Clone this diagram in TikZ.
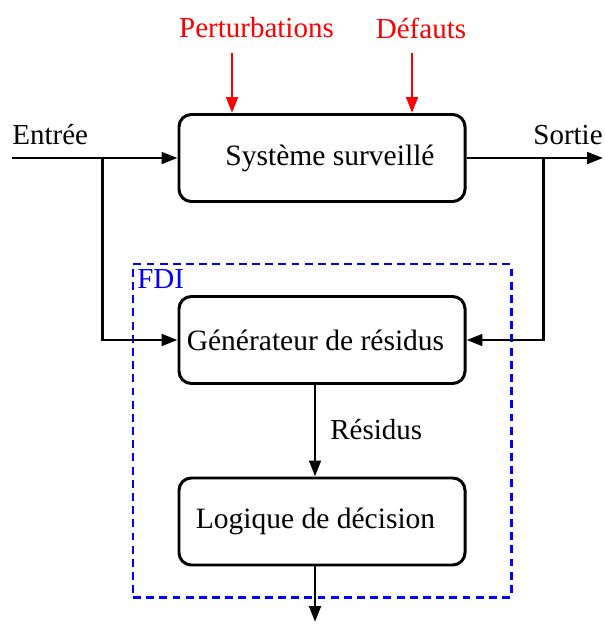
\documentclass[tikz,border=0pt]{standalone}
\usepackage{fontspec}
\setmainfont{Liberation Serif}
\usetikzlibrary{arrows.meta,positioning}

\begin{document}
\begin{tikzpicture}[
  bloc/.style={draw, line width=1.7pt, rounded corners=7pt, minimum width=5.72cm,
               minimum height=1.74cm, font=\fontsize{16.8}{19}\selectfont, align=center},
  lbl/.style={font=\fontsize{16.5}{19}\selectfont, inner sep=0pt},
  fleche/.style={line width=1.7pt, -{Triangle[length=9pt,width=6.5pt]}},
  cadre/.style={draw=blue, line width=1.7pt, dash pattern=on 4.5pt off 3pt,
                minimum width=7.56cm, minimum height=6.66cm, inner sep=0pt},
]
\useasboundingbox (0,0) rectangle (12.1,-12.5);

% blocs
\node[bloc] (sys) at (6.44,-3.16) {\hspace*{0.32cm}Système surveillé};
\node[cadre] (fdi) at (6.44,-8.61) {};
\node[bloc] (gen) at (6.44,-6.8) {\hspace*{-0.26cm}Générateur de résidus};
\node[bloc] (dec) at (6.44,-10.43) {\hspace*{-0.26cm}Logique de décision};

% textes
\node[lbl, red] (pert) at (5.13,-0.56) {Perturbations};
\node[lbl, red] (def) at (8.42,-0.56) {Défauts};
\node[lbl, anchor=west] (entree) at (0.24,-2.7) {Entrée};
\node[lbl, anchor=east] (sortie) at (12.06,-2.7) {Sortie};
\node[lbl, anchor=west] (res) at (6.6,-8.6) {Résidus};
\node[lbl, blue, anchor=west] (fdilbl) at (2.74,-5.58) {FDI};

% points de passage
\coordinate (p) at (4.64,-1.06);
\coordinate (d) at (8.24,-1.06);
\coordinate (e) at (0.24,0);
\coordinate (s) at (12.06,0);
\coordinate (b1) at (2.05,0);
\coordinate (b2) at (10.86,0);
\coordinate (axe) at (6.3,0);
\coordinate (fin) at (6.3,-12.44);

% liaisons
\draw[fleche, red] (p) -- (p |- sys.north);
\draw[fleche, red] (d) -- (d |- sys.north);
\draw[fleche] (e |- sys.west) -- (sys.west);
\draw[fleche] (sys.east) -- (sys.east -| s);
\draw[fleche] (b1 |- sys.west) |- (gen.west);
\draw[fleche] (b2 |- sys.east) |- (gen.east);
\draw[fleche] (gen.south -| axe) -- (dec.north -| axe);
\draw[fleche] (dec.south -| axe) -- (fin);

\end{tikzpicture}
\end{document}
